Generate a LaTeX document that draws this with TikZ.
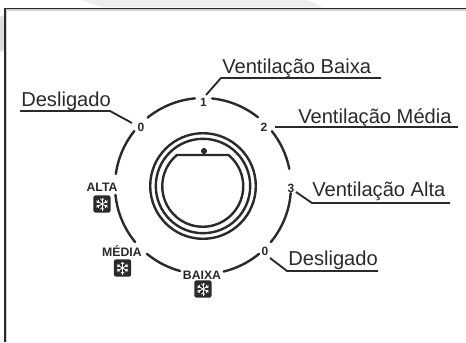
\documentclass[tikz,border=0pt]{standalone}
\usepackage{fontspec}
\setmainfont{Liberation Sans}
\usetikzlibrary{calc}
\definecolor{ink}{HTML}{2A2A2A}
\definecolor{bandgray}{HTML}{EEEEEE}
\definecolor{sidegray}{HTML}{DDDDDF}
\tikzset{
  x=0.75pt,y=-0.75pt,
  dialarc/.style={draw=ink,line width=1.8pt,line cap=round},
  leader/.style={draw=ink,line width=1.4pt},
  ringline/.style={draw=ink,line width=1.8pt},
  lbl/.style={text=ink,font=\fontsize{15.1}{15}\selectfont,inner sep=0pt,anchor=base west},
  num/.style={text=ink,font=\bfseries\fontsize{9}{9}\selectfont,inner sep=0pt},
  capt/.style={text=ink,font=\bfseries\fontsize{9.2}{9}\selectfont,inner sep=0pt},
  iconbox/.style={fill=ink,rounded corners=1.5pt,minimum size=12.9pt,inner sep=0pt},
  flake/.style={draw=white,line width=0.6pt}
}
\newcommand{\snowicon}[3]{%
  \node[iconbox] (#1) at (#2,#3) {};
  \begin{scope}[shift={(#2,#3)}]
    \foreach \a in {30,90,150,210,270,330} {
      \draw[flake] (0,0) -- (\a:6.5);
      \draw[flake] (\a:3.6) -- ++(\a+45:2.4);
      \draw[flake] (\a:3.6) -- ++(\a-45:2.4);
    }
  \end{scope}
}
\newcommand{\dialseg}[2]{%
  \draw[dialarc] ($(c)+(#1:88)$) arc[start angle=#1,end angle=#2,radius=88];
}
\begin{document}
\begin{tikzpicture}
\useasboundingbox (0,0) rectangle (466,342);
\fill[white] (0,0) rectangle (466,342);
\fill[bandgray] (80,0) -- (308,0) -- (323,7.5) -- (103,7.5) -- cycle;
\fill[sidegray] (0,17) -- (4.5,15) -- (4.5,50) -- (0,52) -- cycle;
\draw[draw=black!18,line width=0.8pt] (6.6,342) -- (6.6,10) -- (466,10);
\draw[draw=ink,line width=1.1pt] (5,342) -- (5,8.5) -- (466,8.5);

\coordinate (c) at (203,186);
\node[circle,ringline,minimum size=79.2pt,inner sep=0pt] (outerring) at (c) {};
\node[circle,ringline,minimum size=70.8pt,inner sep=0pt] (midring) at (c) {};
\draw[ringline,line join=round] (177.5,155) -- (228.5,155) arc[start angle=-50.5,end angle=230.5,radius=40.5] -- cycle;
\node[circle,fill=ink,minimum size=4.6pt,inner sep=0pt] (dot) at (204,151) {};

\dialseg{-84.1}{-51.4}
\dialseg{-38.5}{-11.2}
\dialseg{4.6}{39.5}
\dialseg{50.4}{76.4}
\dialseg{105.1}{129.6}
\dialseg{140.5}{174.2}
\dialseg{187.9}{218.6}
\dialseg{231}{264.7}

\node[num] (n0a) at (141,127) {0};
\node[num] (n1) at (203.5,102) {1};
\node[num] (n2) at (264,127) {2};
\node[num] (n3) at (291,188) {3};
\node[num] (n0b) at (265,251) {0};

\node[capt] (alta) at (102,187) {ALTA};
\node[capt] (media) at (122,251) {MÉDIA};
\node[capt] (baixa) at (202,275) {BAIXA};
\snowicon{ialta}{102}{204}
\snowicon{imedia}{122.5}{268}
\snowicon{ibaixa}{203}{289}

\node[lbl] (tdl) at (21,106.5) {Desligado};
\node[lbl] (tvb) at (222,74) {Ventilação Baixa};
\node[lbl] (tvm) at (298,123.5) {Ventilação Média};
\node[lbl] (tva) at (312,196.5) {Ventilação Alta};
\node[lbl] (tdr) at (288,265) {Desligado};

\coordinate (l0a) at (132,123);
\coordinate (k0a) at (110,111);
\coordinate (e0a) at (20,111);
\coordinate (l1) at (206,95);
\coordinate (k1) at (221,78);
\coordinate (e1) at (381,78);
\coordinate (l2) at (275,127);
\coordinate (e2) at (458,127);
\coordinate (l3) at (296,192);
\coordinate (k3) at (312,203);
\coordinate (e3) at (450,203);
\coordinate (l0b) at (270,258);
\coordinate (k0b) at (287,271);
\coordinate (e0b) at (378,271);
\draw[leader] (l0a) -- (k0a) -- (e0a);
\draw[leader] (l1) -- (k1) -- (e1);
\draw[leader] (l2) -- (e2);
\draw[leader] (l3) -- (k3) -- (e3);
\draw[leader] (l0b) -- (k0b) -- (e0b);
\end{tikzpicture}
\end{document}
